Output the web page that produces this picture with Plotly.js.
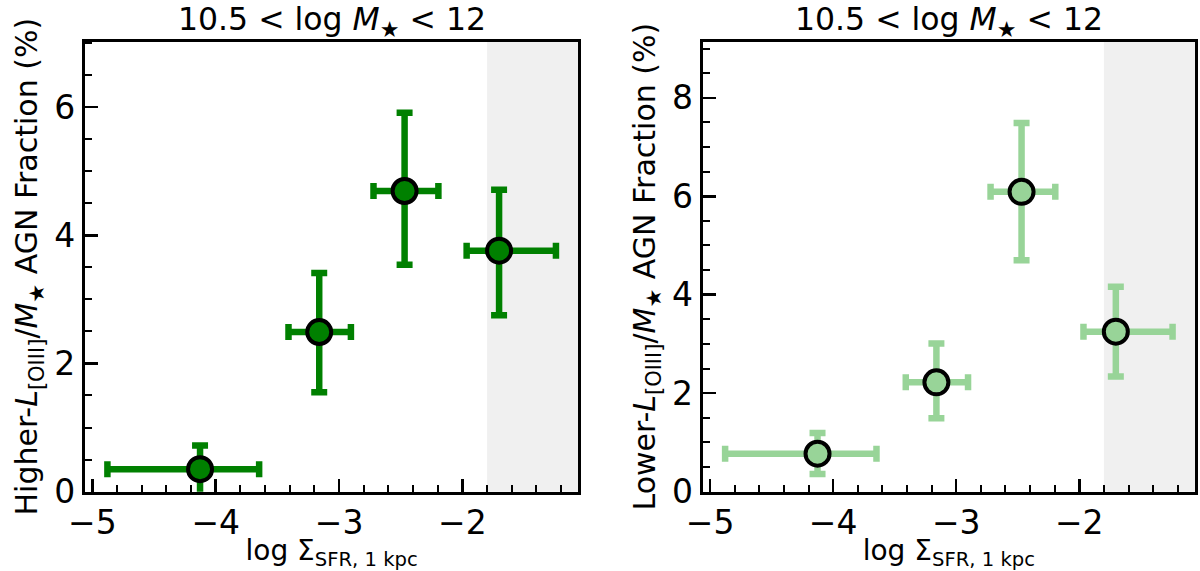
<!DOCTYPE html>
<html><head><meta charset="utf-8">
<script src="https://cdn.plot.ly/plotly-3.0.1.min.js"></script>
<style>html,body{margin:0;padding:0;background:#fff}</style>
</head><body>
<div id="chart" style="width:1200px;height:571px"></div>
<script>
// ---- data ----
const logSigmaSFR = [-4.127, -3.161, -2.469, -1.703];
const xErrMinus   = [0.751, 0.249, 0.252, 0.263];
const xErrPlus    = [0.479, 0.257, 0.274, 0.461];

const higherFrac      = [0.35, 2.49, 4.69, 3.76];
const higherErrPlus   = [0.37, 0.92, 1.22, 0.95];
const higherErrMinus  = [0.45, 0.94, 1.15, 1.01];

const lowerFrac       = [0.77, 2.22, 6.09, 3.25];
const lowerErrPlus    = [0.42, 0.79, 1.40, 0.91];
const lowerErrMinus   = [0.41, 0.73, 1.39, 0.91];

const highSigmaLimit  = -1.8;
const xTickVals = [-5, -4, -3, -2];
const yTickValsLeft = [0, 2, 4, 6];
const yTickValsRight = [0, 2, 4, 6, 8];

const panelTitle = "10.5 &lt; log <i>M</i><sub>★</sub> &lt; 12";
const xTitle = "log Σ<sub>SFR, 1 kpc</sub>";
const yTitleLeft = "Higher-<i>L</i><sub>[OIII]</sub>/<i>M</i><sub>★</sub> AGN Fraction (%)";
const yTitleRight = "Lower-<i>L</i><sub>[OIII]</sub>/<i>M</i><sub>★</sub> AGN Fraction (%)";

// ---- styling ----
const FONT = "DejaVu Sans";
const darkGreen = "#008000";
const lightGreen = "#98d498";
const xRange = [-5.06, -1.06];

function makeTrace(y, ep, em, color, xa, ya) {
  return {
    type: "scatter", mode: "markers",
    x: logSigmaSFR, y: y, xaxis: xa, yaxis: ya,
    showlegend: false, hoverinfo: "skip",
    marker: {size: 24, color: color, line: {color: "black", width: 4}},
    error_x: {type: "data", symmetric: false, array: xErrPlus, arrayminus: xErrMinus,
              color: color, thickness: 6.5, width: 8},
    error_y: {type: "data", symmetric: false, array: ep, arrayminus: em,
              color: color, thickness: 6.5, width: 8}
  };
}

const traces = [
  makeTrace(higherFrac, higherErrPlus, higherErrMinus, darkGreen, "x", "y"),
  makeTrace(lowerFrac, lowerErrPlus, lowerErrMinus, lightGreen, "x2", "y2")
];

function xAxis(domain, anchor) {
  return {
    domain: domain, anchor: anchor, range: xRange,
    tickmode: "array", tickvals: xTickVals,
    ticks: "inside", ticklen: 13, tickwidth: 2.5, tickcolor: "black",
    minor: {ticks: "inside", dtick: 0.2, tick0: 0, ticklen: 7, tickwidth: 2, tickcolor: "black", showgrid: false},
    showline: true, linecolor: "black", linewidth: 3, mirror: true,
    showgrid: false, zeroline: false,
    tickfont: {family: FONT, size: 33, color: "black"},
    title: {text: xTitle, font: {family: FONT, size: 28, color: "black"}, standoff: 4}
  };
}
function yAxis(domain, anchor, range, tv, title) {
  return {
    domain: domain, anchor: anchor, range: range,
    tickmode: "array", tickvals: tv,
    ticks: "inside", ticklen: 13, tickwidth: 2.5, tickcolor: "black",
    minor: {ticks: "inside", dtick: 0.5, tick0: 0, ticklen: 7, tickwidth: 2, tickcolor: "black", showgrid: false},
    showline: true, linecolor: "black", linewidth: 3, mirror: true,
    showgrid: false, zeroline: false,
    tickfont: {family: FONT, size: 33, color: "black"},
    title: {text: title, font: {family: FONT, size: 30, color: "black"}, standoff: 8}
  };
}

const yDom = [0.139, 0.927];
const layout = {
  width: 1200, height: 571,
  margin: {l: 0, r: 0, t: 0, b: 0},
  paper_bgcolor: "white", plot_bgcolor: "white",
  font: {family: FONT, color: "black"},
  xaxis: xAxis([0.0708, 0.482], "y"),
  yaxis: yAxis(yDom, "x", [0, 7.02], yTickValsLeft, yTitleLeft),
  xaxis2: xAxis([0.5856, 0.9958], "y2"),
  yaxis2: yAxis(yDom, "x2", [0, 9.14], yTickValsRight, yTitleRight),
  shapes: [
    {type: "rect", xref: "x", yref: "y domain", x0: highSigmaLimit, x1: xRange[1], y0: 0, y1: 1,
     fillcolor: "#f0f0f0", line: {width: 0}, layer: "below"},
    {type: "rect", xref: "x2", yref: "y2 domain", x0: highSigmaLimit, x1: xRange[1], y0: 0, y1: 1,
     fillcolor: "#f0f0f0", line: {width: 0}, layer: "below"}
  ],
  annotations: [
    {text: panelTitle, xref: "paper", yref: "paper", x: 0.2764, y: 1, xanchor: "center", yanchor: "top",
     borderpad: 0, showarrow: false, font: {family: FONT, size: 31.5, color: "black"}},
    {text: panelTitle, xref: "paper", yref: "paper", x: 0.7907, y: 1, xanchor: "center", yanchor: "top",
     borderpad: 0, showarrow: false, font: {family: FONT, size: 31.5, color: "black"}}
  ]
};

Plotly.newPlot("chart", traces, layout, {staticPlot: true, displayModeBar: false});
</script>
</body></html>
